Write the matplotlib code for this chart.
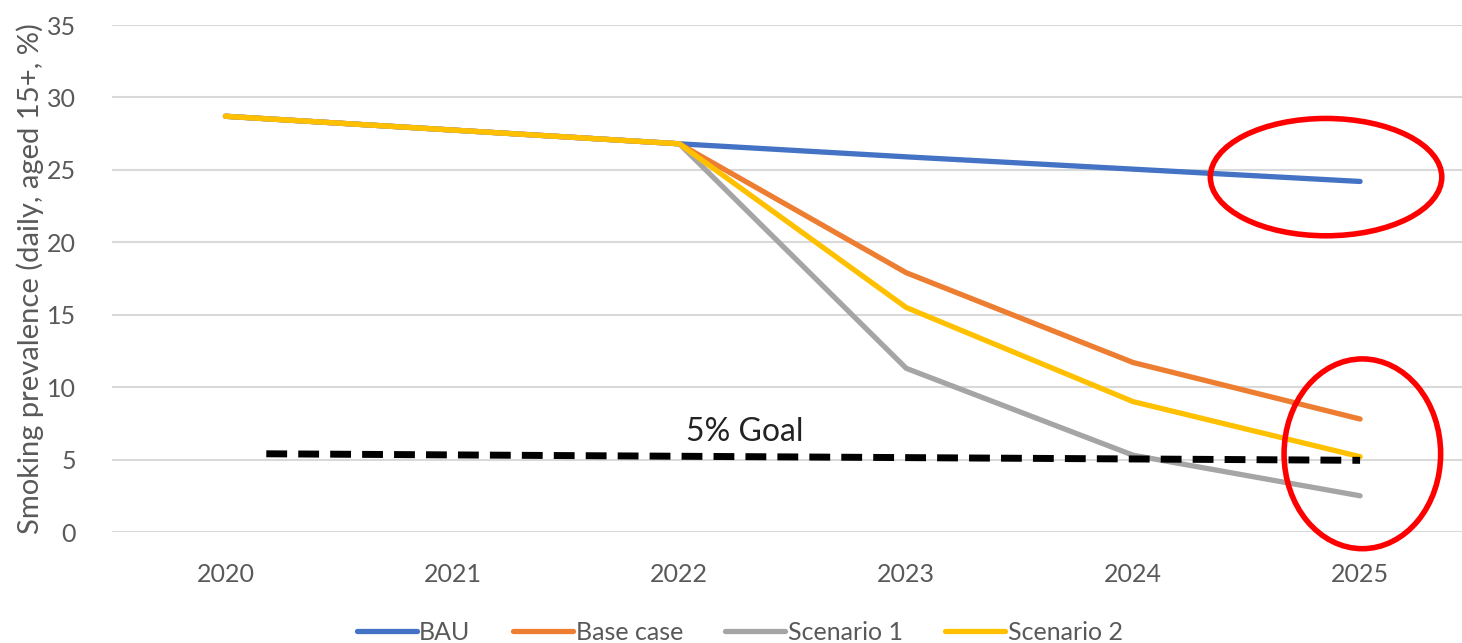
import matplotlib.pyplot as plt
from matplotlib.patches import Ellipse

# --- data
years = [2020, 2021, 2022, 2023, 2024, 2025]
bau = [28.7, 27.75, 26.8, 25.9, 25.05, 24.2]
base_case = [28.7, 27.75, 26.8, 17.9, 11.7, 7.8]
scenario_1 = [28.7, 27.75, 26.8, 11.3, 5.3, 2.5]
scenario_2 = [28.7, 27.75, 26.8, 15.5, 9.0, 5.2]
goal_x = [2020.18, 2025]
goal_y = [5.4, 4.95]

series_names = ["BAU", "Base case", "Scenario 1", "Scenario 2"]
series_colors = ["#4472c4", "#ed7d31", "#a5a5a5", "#ffc000"]

plt.rcParams['font.family'] = ['Lato', 'DejaVu Sans']
text_color = "#595959"

fig = plt.figure(figsize=(14.62, 6.43), dpi=100)
ax = fig.add_axes([0.0766, 0.1726, 0.9313, 0.7885])

for vals, name, col in zip([bau, base_case, scenario_1, scenario_2], series_names, series_colors):
    ax.plot(years, vals, color=col, lw=3.8, label=name, solid_capstyle='round', zorder=3)

ax.plot(goal_x, goal_y, color="black", lw=5, dashes=(3, 1.6), dash_capstyle='butt', zorder=4)
ax.text(2022.29, 6.9, "5% Goal", fontsize=23, color="#222222", ha="center", va="center")

# red annotation circles
ax.add_patch(Ellipse((2024.85, 24.5), 1.02, 8.1, fill=False, ec="red", lw=4, zorder=5, clip_on=False))
ax.add_patch(Ellipse((2025.01, 5.4), 0.69, 13.1, fill=False, ec="red", lw=4, zorder=5, clip_on=False))

ax.set_xlim(2019.5, 2025.5)
ax.set_ylim(0, 35)
ax.set_xticks(years)
ax.set_yticks(range(0, 36, 5))
ax.grid(axis='y', color="#d9d9d9", lw=1.5)
ax.set_axisbelow(True)
for s in ax.spines.values():
    s.set_visible(False)
ax.tick_params(length=0, labelsize=18, labelcolor=text_color)
ax.tick_params(axis='x', pad=22)
ax.tick_params(axis='y', pad=26)
ax.set_ylabel("Smoking prevalence (daily, aged 15+, %)", fontsize=21, color=text_color, labelpad=2)

fig.legend(loc="center", bbox_to_anchor=(0.506, 0.017), ncol=4, frameon=False,
           fontsize=18, labelcolor=text_color, handlelength=2.4, handletextpad=0.1,
           columnspacing=1.7)

plt.savefig("out.png", dpi=100)
